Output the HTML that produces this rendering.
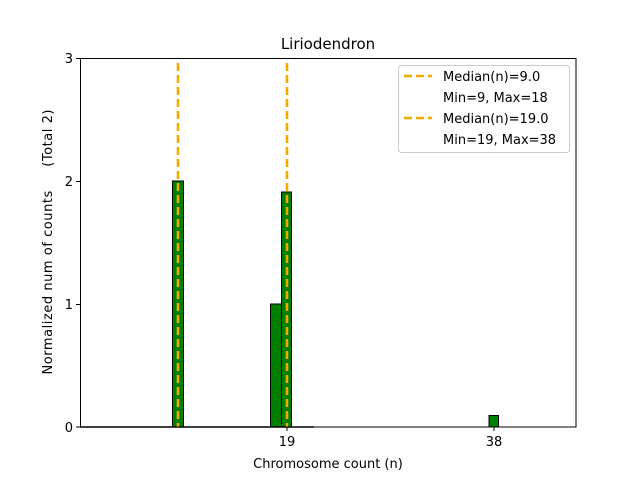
<!DOCTYPE html>
<html><head><meta charset="utf-8"><style>body{margin:0;background:#fff}svg{display:block}</style></head>
<body>
<svg width="640" height="480" xmlns="http://www.w3.org/2000/svg" font-family="DejaVu Sans, Liberation Sans, sans-serif">
<rect width="640" height="480" fill="#fff"/>
<g stroke="#000" stroke-width="1" fill="#008000">
<rect x="172.5" y="181" width="11" height="246"/>
<rect x="270.5" y="304" width="11" height="123"/>
<rect x="281.5" y="192" width="10" height="235"/>
<rect x="489" y="415.5" width="9.5" height="11.5"/>
</g>
<line x1="80" y1="427" x2="314" y2="427" stroke="#000" stroke-width="1.6"/>
<g stroke="#f0aa00" stroke-width="2.6" stroke-dasharray="8,4">
<line x1="178" y1="63" x2="178" y2="427"/>
<line x1="287" y1="63" x2="287" y2="427"/>
</g>
<rect x="80.5" y="58.5" width="495.5" height="368.5" fill="none" stroke="#000" stroke-width="1"/>
<g stroke="#000">
<line x1="76" y1="58.5" x2="80" y2="58.5"/>
<line x1="76" y1="181.5" x2="80" y2="181.5"/>
<line x1="76" y1="304.5" x2="80" y2="304.5"/>
<line x1="76" y1="427" x2="80" y2="427"/>
<line x1="287" y1="427" x2="287" y2="431"/>
<line x1="494" y1="427" x2="494" y2="431"/>
</g>
<g font-size="13" fill="#000">
<text x="73" y="63" text-anchor="end">3</text>
<text x="73" y="186" text-anchor="end">2</text>
<text x="73" y="309" text-anchor="end">1</text>
<text x="73" y="432" text-anchor="end">0</text>
<text x="287" y="446" text-anchor="middle">19</text>
<text x="494" y="446" text-anchor="middle">38</text>
<text x="328" y="468" text-anchor="middle">Chromosome count (n)</text>
<text x="0" y="0" text-anchor="middle" textLength="265" lengthAdjust="spacing" transform="translate(52,242) rotate(-90)" xml:space="preserve">Normalized num of counts     (Total 2)</text>
<text x="328" y="49" text-anchor="middle" font-size="15">Liriodendron</text>
</g>
<rect x="398.5" y="65.5" width="171" height="87" rx="3" fill="#fff" fill-opacity="0.8" stroke="#ccc"/>
<g stroke="#f0aa00" stroke-width="2.6" stroke-dasharray="8,4">
<line x1="404" y1="76" x2="432" y2="76"/>
<line x1="404" y1="118" x2="432" y2="118"/>
</g>
<g font-size="13" fill="#000">
<text x="443" y="81">Median(n)=9.0</text>
<text x="443" y="102">Min=9, Max=18</text>
<text x="443" y="123">Median(n)=19.0</text>
<text x="443" y="144">Min=19, Max=38</text>
</g>
</svg>
</body></html>
